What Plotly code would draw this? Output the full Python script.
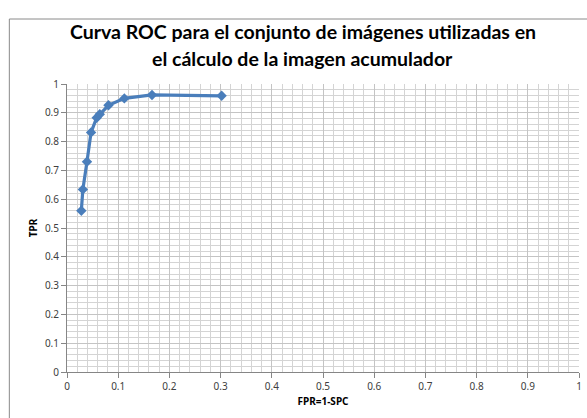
import plotly.graph_objects as go

fpr = [0.028, 0.031, 0.039, 0.047, 0.058, 0.064, 0.081, 0.112, 0.166, 0.302]
tpr = [0.560, 0.634, 0.730, 0.832, 0.883, 0.895, 0.926, 0.950, 0.962, 0.959]
tick_vals = [0, 0.1, 0.2, 0.3, 0.4, 0.5, 0.6, 0.7, 0.8, 0.9, 1]
tick_text = ["0", "0.1", "0.2", "0.3", "0.4", "0.5", "0.6", "0.7", "0.8", "0.9", "1"]
title_lines = ["Curva ROC para el conjunto de imágenes utilizadas en",
               "el cálculo de la imagen acumulador"]

W, H = 587, 418
ml, mr, mt, mb = 67, 5, 84, 46
pw, ph = W - ml - mr, H - mt - mb

def px_x(p):
    return (p - ml) / pw

def px_y(p):
    return (H - mb - p) / ph

fig = go.Figure()
fig.add_trace(go.Scatter(
    x=fpr, y=tpr, mode="lines+markers",
    line=dict(color="#4a7ebb", width=3.2),
    marker=dict(symbol="diamond", size=8, color="#4a7ebb"),
    showlegend=False, cliponaxis=False,
))

axis_common = dict(
    range=[0, 1], tickvals=tick_vals, ticktext=tick_text,
    showgrid=True, gridcolor="#c4c4c4", gridwidth=1,
    minor=dict(dtick=0.02, showgrid=True, gridcolor="#d4d4d4", gridwidth=1),
    showline=True, linecolor="#868686", linewidth=1,
    ticks="outside", ticklen=5, tickcolor="#868686",
    tickfont=dict(family="Noto Sans, Open Sans, sans-serif", size=10, color="#404040"),
    zeroline=False, fixedrange=True,
)

title_font = dict(family="Lato, Open Sans, sans-serif", size=19.5, color="#000000", weight="bold")
annotations = [
    dict(text=title_lines[0], xref="paper", yref="paper", x=px_x(304), y=px_y(32),
         xanchor="center", yanchor="middle", showarrow=False, font=title_font),
    dict(text=title_lines[1], xref="paper", yref="paper", x=px_x(304), y=px_y(58),
         xanchor="center", yanchor="middle", showarrow=False, font=title_font),
]

fig.update_layout(
    width=W, height=H,
    margin=dict(l=ml, r=mr, t=mt, b=mb),
    paper_bgcolor="white", plot_bgcolor="white",
    annotations=annotations,
    xaxis=dict(axis_common, title=dict(text="<b>FPR=1-SPC</b>", standoff=5,
               font=dict(family="Noto Sans, sans-serif", size=10, color="#000000"))),
    yaxis=dict(axis_common, title=dict(text="<b>TPR</b>", standoff=5,
               font=dict(family="Noto Sans, sans-serif", size=10, color="#000000"))),
    shapes=[dict(
        type="path", xref="paper", yref="paper",
        path=f"M {px_x(9)} -0.5 L {px_x(9)} {px_y(19)} L 1.5 {px_y(19)}",
        line=dict(color="#8a8a8a", width=1),
    )],
)

fig.write_html("out.html", config={"displayModeBar": False},
               post_script="document.body.style.margin='0';document.body.style.overflow='hidden';")
